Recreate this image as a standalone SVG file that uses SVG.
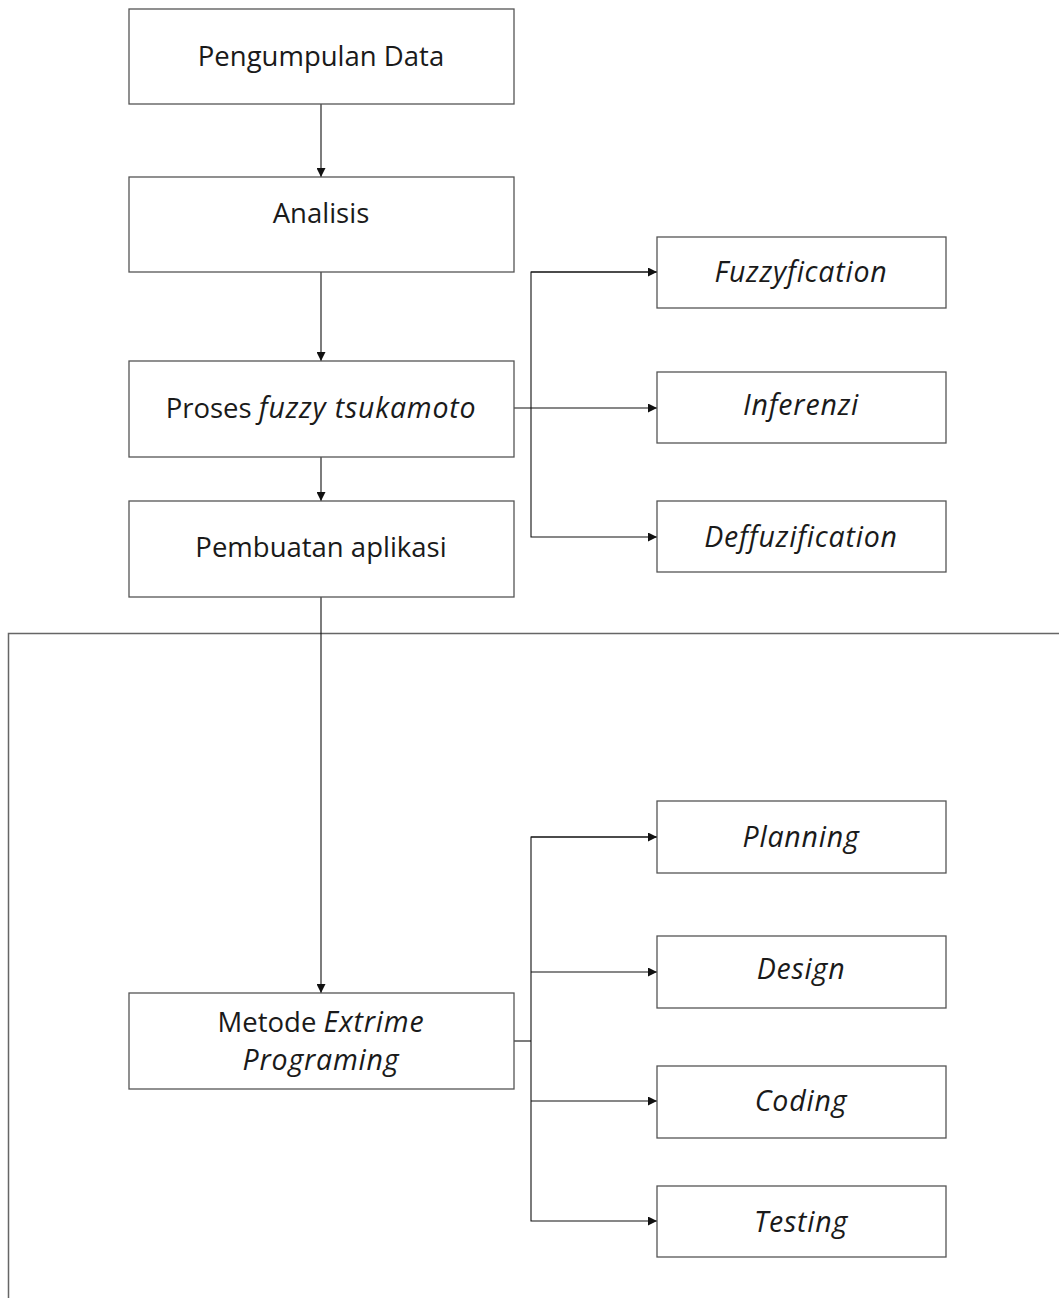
<svg xmlns="http://www.w3.org/2000/svg" width="1059" height="1298" viewBox="0 0 1059 1298">
<style>
.box{fill:#fff;stroke:#555;stroke-width:1.3}
.t{font-family:"Open Sans","Liberation Sans",sans-serif;font-size:27.5px;fill:#1a1a1a;text-anchor:middle}
.i{font-style:italic;font-size:28.5px;letter-spacing:0.8px}
.c{fill:none;stroke:#111;stroke-width:1.1}
.frame{fill:none;stroke:#666;stroke-width:1.5}
</style>
<defs>
<marker id="a" viewBox="0 0 10 10" refX="10" refY="5" markerWidth="9" markerHeight="9" markerUnits="userSpaceOnUse" orient="auto">
<path d="M0,0 L10,5 L0,10 z" fill="#111"/>
</marker>
</defs>
<rect class="frame" x="8.5" y="633.5" width="1200" height="800"/>
<g id="connectors">
<line class="c" x1="321" y1="104" x2="321" y2="177" marker-end="url(#a)"/>
<line class="c" x1="321" y1="272" x2="321" y2="361" marker-end="url(#a)"/>
<line class="c" x1="321" y1="457" x2="321" y2="501" marker-end="url(#a)"/>
<line class="c" x1="321" y1="597" x2="321" y2="993" marker-end="url(#a)"/>
<line class="c" x1="514" y1="408" x2="657" y2="408" marker-end="url(#a)"/>
<polyline class="c" points="657,272 531,272 531,537 657,537" marker-end="url(#a)"/>
<path class="c" d="M531,272 H657" marker-end="url(#a)"/>
<line class="c" x1="514" y1="1041" x2="531" y2="1041"/>
<polyline class="c" points="657,837 531,837 531,1221 657,1221" marker-end="url(#a)"/>
<path class="c" d="M531,837 H657" marker-end="url(#a)"/>
<path class="c" d="M531,972 H657" marker-end="url(#a)"/>
<path class="c" d="M531,1101 H657" marker-end="url(#a)"/>
</g>
<g id="n1"><rect class="box" x="129" y="9" width="385" height="95"/><text class="t" x="321" y="66">Pengumpulan Data</text></g>
<g id="n2"><rect class="box" x="129" y="177" width="385" height="95"/><text class="t" x="321" y="223">Analisis</text></g>
<g id="n3"><rect class="box" x="129" y="361" width="385" height="96"/><text class="t" x="321" y="418">Proses <tspan class="i">fuzzy tsukamoto</tspan></text></g>
<g id="n4"><rect class="box" x="129" y="501" width="385" height="96"/><text class="t" x="321" y="557">Pembuatan aplikasi</text></g>
<g id="n5"><rect class="box" x="129" y="993" width="385" height="96"/><text class="t" x="321" y="1032">Metode <tspan class="i">Extrime</tspan></text><text class="t i" x="321" y="1070">Programing</text></g>
<g id="n6"><rect class="box" x="657" y="237" width="289" height="71"/><text class="t i" x="801" y="282">Fuzzyfication</text></g>
<g id="n7"><rect class="box" x="657" y="372" width="289" height="71"/><text class="t i" x="801" y="415">Inferenzi</text></g>
<g id="n8"><rect class="box" x="657" y="501" width="289" height="71"/><text class="t i" x="801" y="547">Deffuzification</text></g>
<g id="n9"><rect class="box" x="657" y="801" width="289" height="72"/><text class="t i" x="801" y="847">Planning</text></g>
<g id="n10"><rect class="box" x="657" y="936" width="289" height="72"/><text class="t i" x="801" y="979">Design</text></g>
<g id="n11"><rect class="box" x="657" y="1066" width="289" height="72"/><text class="t i" x="801" y="1111">Coding</text></g>
<g id="n12"><rect class="box" x="657" y="1186" width="289" height="71"/><text class="t i" x="801" y="1232">Testing</text></g>
</svg>
